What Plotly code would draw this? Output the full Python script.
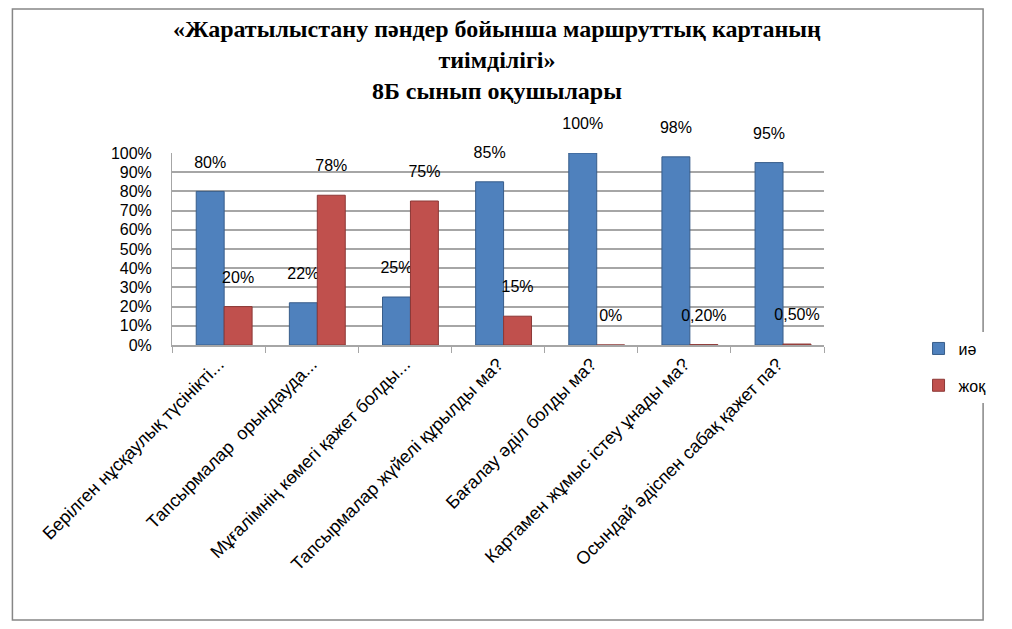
import plotly.graph_objects as go

# survey questions (truncated as on the chart axis)
questions = [
    "Берілген нұсқаулық түсінікті...",
    "Тапсырмалар  орындауда...",
    "Мұғалімнің көмегі қажет болды...",
    "Тапсырмалар жүйелі құрылды ма?",
    "Бағалау әділ болды ма?",
    "Картамен жұмыс істеу ұнады ма?",
    "Осындай әдіспен сабақ қажет па?",
]
yes_vals = [0.80, 0.22, 0.25, 0.85, 1.00, 0.98, 0.95]
no_vals = [0.20, 0.78, 0.75, 0.15, 0.0, 0.002, 0.005]
yes_text = ["80%", "22%", "25%", "85%", "100%", "98%", "95%"]
no_text = ["20%", "78%", "75%", "15%", "0%", "0,20%", "0,50%"]
title_text = ("«Жаратылыстану пәндер бойынша маршруттық картаның<br>"
              "тиімділігі»<br>8Б сынып оқушылары")

# small empty line under each label lifts it above the bar, like the 3D chart
lift = "<br><span style='font-size:2px'> </span>"

fig = go.Figure()
fig.add_trace(go.Bar(
    x=questions, y=yes_vals, name="иә", text=yes_text, legendgroup="yes",
    texttemplate="%{text}" + lift, width=0.3, offset=-0.24,
    textposition="outside", cliponaxis=False, constraintext="none",
    marker=dict(color="#4F81BD", line=dict(color="#385D8A", width=1)),
))
fig.add_trace(go.Bar(
    x=questions, y=no_vals, name="жоқ", text=no_text, legendgroup="no",
    texttemplate="%{text}" + lift, width=0.3, offset=0.06,
    textposition="outside", cliponaxis=False, constraintext="none",
    marker=dict(color="#C0504D", line=dict(color="#8C3836", width=1)),
))

# page body adds an 8px margin on every side, so keep the figure inside it
fig.update_layout(
    width=996, height=613,
    paper_bgcolor="white", plot_bgcolor="white",
    font=dict(family="Liberation Sans", size=16, color="black"),
    barmode="group",
    margin=dict(l=164, r=164, t=145, b=276),
    legend=dict(x=1.145, y=0.07, xanchor="left", yanchor="top",
                font=dict(size=16), tracegroupgap=13, itemwidth=30),
    showlegend=True,
)
fig.add_annotation(
    text=title_text, xref="paper", yref="paper", x=0.4985, y=1 + 139 / 192,
    xanchor="center", yanchor="top", showarrow=False, align="center",
    font=dict(family="Liberation Serif", size=24, color="black", weight="bold"),
)
fig.update_traces(textfont=dict(size=16, color="black"))
fig.update_yaxes(range=[0, 1], dtick=0.1, tickformat=".0%",
                 showgrid=True, gridcolor="#A6A6A6", gridwidth=1.5,
                 showline=True, linecolor="#A6A6A6", ticks="",
                 ticklabelstandoff=16, tickfont=dict(size=16))
fig.update_xaxes(tickangle=-45, tickson="boundaries", ticks="outside",
                 ticklen=6, tickcolor="#A6A6A6", showline=True,
                 linecolor="#A6A6A6", linewidth=1.5, tickfont=dict(size=18))
# outer frame of the chart area
fig.add_shape(type="rect", xref="paper", yref="paper",
              x0=-163.5 / 668, x1=1 + 163 / 668, y0=-275 / 192, y1=1 + 144 / 192,
              line=dict(color="#868686", width=1.5))
fig.write_html("out.html")
